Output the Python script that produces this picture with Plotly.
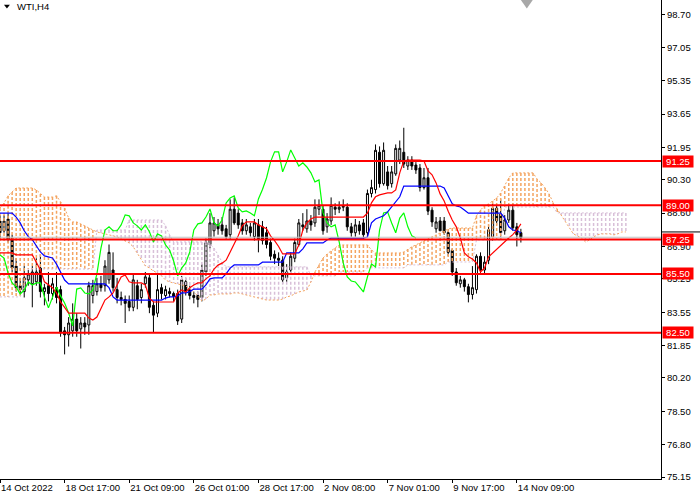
import plotly.graph_objects as go

# WTI H4 candles, bar 0 = 14 Oct 2022
opens = [88.2, 87.7, 88.3, 87.3, 85.9, 84.9, 84.6, 85.2, 85.0, 85.1,
         85.8, 84.6, 84.9, 84.5, 84.8, 84.7, 82.6, 82.4, 82.6, 83.2,
         82.7, 83.0, 82.9, 84.4, 84.6, 85.0, 84.9, 85.2, 85.7, 84.7,
         84.3, 84.2, 84.1, 83.8, 84.9, 84.3, 85.0, 85.3, 83.9, 83.5,
         84.8, 84.4, 84.6, 84.5, 84.5, 83.2, 85.1, 84.7, 84.4, 84.4,
         84.3, 85.6, 87.0, 87.7, 88.0, 88.0, 87.8, 87.5, 88.8, 88.6,
         88.1, 87.7, 87.9, 87.4, 88.0, 87.9, 87.6, 87.1, 86.5, 86.3,
         86.2, 85.3, 85.7, 86.3, 87.0, 88.0, 87.8, 88.2, 88.1, 88.8,
         88.8, 87.9, 88.2, 88.9, 88.8, 88.9, 88.9, 87.9, 87.6, 88.0,
         88.1, 87.6, 89.6, 89.8, 91.7, 90.1, 90.7, 90.1, 90.6, 91.3,
         91.7, 91.0, 91.3, 91.05, 90.9, 89.9, 90.4, 88.75, 87.8, 88.2,
         88.2, 87.6, 86.7, 85.6, 85.0, 85.2, 84.85, 84.45, 84.7, 86.4,
         85.7, 86.2, 87.4, 88.85, 88.55, 87.7, 88.25, 88.75, 87.9, 87.6]
highs = [88.5, 88.5, 88.6, 87.5, 86.3, 85.3, 85.9, 85.7, 85.9, 86.3,
         86.5, 85.0, 85.6, 85.3, 85.6, 84.9, 82.8, 83.3, 84.0, 83.5,
         83.3, 83.3, 85.1, 85.2, 85.3, 85.4, 86.2, 87.0, 86.6, 85.3,
         84.6, 84.4, 84.4, 85.5, 85.2, 85.0, 85.6, 85.5, 84.1, 85.45,
         85.0, 84.9, 84.8, 84.6, 84.7, 85.4, 85.3, 84.9, 84.6, 84.6,
         86.0, 87.3, 88.6, 88.4, 88.3, 88.4, 88.0, 89.3, 89.4, 88.8,
         88.3, 88.3, 88.1, 88.3, 88.3, 88.2, 87.9, 87.3, 86.7, 86.6,
         86.4, 86.0, 86.6, 87.3, 88.3, 88.6, 88.8, 88.5, 89.3, 89.3,
         89.0, 88.6, 89.4, 89.1, 89.2, 89.3, 89.1, 88.1, 88.3, 88.2,
         88.3, 89.8, 90.3, 92.1, 92.0, 92.2, 91.0, 91.0, 92.1, 92.3,
         92.95, 91.5, 91.5, 91.2, 91.1, 90.9, 90.9, 88.9, 88.4, 88.4,
         88.4, 87.7, 86.8, 85.8, 85.4, 85.3, 85.0, 85.9, 86.5, 86.6,
         86.4, 88.0, 89.1, 89.0, 89.3, 88.5, 89.0, 89.1, 88.1, 87.8]
lows = [87.3, 87.6, 87.1, 85.6, 84.6, 84.5, 84.3, 84.9, 83.8, 84.9,
        84.3, 83.9, 84.1, 84.2, 84.0, 82.3, 81.4, 81.8, 82.3, 82.3,
        81.7, 82.4, 82.4, 84.0, 84.4, 84.6, 84.6, 85.0, 84.6, 84.0,
        83.9, 83.0, 83.6, 83.6, 83.7, 84.0, 84.8, 83.5, 82.5, 83.3,
        84.2, 84.2, 84.3, 84.1, 82.9, 83.0, 84.4, 84.2, 84.0, 83.8,
        84.1, 85.4, 86.8, 87.4, 87.5, 87.5, 87.3, 87.3, 88.0, 87.8,
        87.5, 87.5, 87.4, 87.2, 86.6, 87.0, 86.8, 86.2, 86.0, 85.9,
        85.0, 85.1, 85.5, 86.1, 86.9, 87.7, 87.6, 87.7, 87.9, 88.5,
        87.5, 87.6, 88.0, 88.5, 88.6, 88.7, 87.7, 87.4, 87.4, 87.5,
        87.3, 87.4, 89.4, 89.6, 89.9, 90.0, 89.8, 89.9, 90.5, 91.1,
        90.9, 90.8, 90.8, 90.6, 89.7, 89.8, 88.5, 87.9, 87.6, 87.7,
        87.5, 86.4, 85.4, 84.9, 84.8, 84.6, 84.05, 84.2, 84.5, 85.5,
        85.5, 86.0, 87.2, 88.0, 87.4, 87.5, 88.1, 87.7, 86.9, 87.1]
closes = [87.6, 88.2, 87.25, 85.8, 84.8, 84.7, 85.3, 85.5, 85.6, 85.6,
          84.6, 84.8, 84.5, 85.0, 84.3, 82.5, 82.4, 83.0, 83.2, 82.6,
          83.0, 82.8, 84.9, 84.9, 85.0, 84.8, 85.9, 86.6, 84.8, 84.3,
          84.2, 84.0, 83.8, 85.2, 84.2, 84.7, 85.35, 83.8, 83.4, 84.7,
          84.5, 84.7, 84.5, 84.35, 83.1, 85.2, 84.6, 84.4, 84.3, 84.2,
          85.7, 87.1, 88.1, 88.1, 87.8, 87.7, 87.4, 88.8, 88.1, 88.0,
          87.7, 88.0, 87.6, 88.1, 87.3, 87.2, 87.0, 86.4, 86.3, 86.2,
          85.2, 85.6, 86.4, 87.1, 88.1, 87.9, 88.2, 88.0, 88.9, 89.0,
          87.7, 88.3, 89.0, 88.8, 88.9, 88.95, 87.9, 87.6, 88.0, 87.7,
          87.5, 89.6, 89.9, 91.8, 90.1, 91.8, 90.0, 90.7, 91.9, 91.9,
          91.1, 91.3, 91.0, 90.8, 89.9, 90.4, 88.7, 88.15, 88.15, 87.7,
          87.6, 86.6, 85.6, 85.05, 85.2, 84.85, 84.45, 84.8, 86.4, 85.7,
          86.1, 87.75, 88.85, 88.2, 87.6, 88.25, 88.75, 87.85, 87.5, 87.35]

# Ichimoku lines
tenkan = [86.57, 86.57, 86.57, 86.57, 86.47, 86.47, 86.47, 86.47, 86.47, 86.10,
          85.70, 85.10, 84.94, 84.80, 84.53, 84.07, 83.80, 83.50, 83.50, 83.50,
          83.50, 83.50, 83.25, 83.15, 83.30, 83.77, 84.17, 84.33, 84.53, 84.94,
          85.35, 85.45, 85.10, 85.04, 85.04, 85.04, 84.94, 84.27, 84.07, 84.07,
          84.07, 84.07, 84.07, 84.07, 84.53, 84.68, 84.58, 84.80, 84.94, 85.04,
          85.04, 85.25, 85.40, 85.75, 85.95, 86.05, 86.20, 86.60, 87.00, 87.45,
          87.95, 88.15, 88.15, 88.15, 88.00, 87.90, 87.80, 87.44, 87.20, 86.90,
          86.52, 86.52, 86.52, 86.52, 86.98, 87.74, 88.10, 88.30, 88.40, 88.40,
          88.40, 88.40, 88.40, 88.40, 88.40, 88.40, 88.40, 88.40, 88.40, 88.40,
          88.40, 88.60, 89.12, 89.43, 89.53, 89.58, 89.63, 89.63, 89.78, 90.65,
          91.26, 91.30, 91.30, 91.30, 91.30, 91.26, 90.75, 90.55, 90.14, 89.58,
          89.22, 88.70, 88.25, 87.90, 87.33, 86.57, 86.37, 86.26, 86.06, 85.60,
          85.80, 86.37, 86.57, 86.72, 86.93, 87.13, 87.33, 87.50, 87.74, 88.05]
kijun = [88.60, 88.60, 88.60, 88.60, 88.40, 88.10, 87.70, 87.40, 87.25, 86.90,
         86.62, 86.42, 86.37, 86.31, 86.00, 85.60, 85.19, 84.99, 84.99, 84.99,
         84.99, 84.99, 84.99, 84.99, 84.99, 84.99, 84.99, 84.80, 84.33, 84.17,
         84.17, 84.17, 84.17, 84.17, 84.17, 84.17, 84.17, 84.17, 84.17, 84.17,
         84.17, 84.27, 84.33, 84.33, 84.38, 84.53, 84.53, 84.60, 84.73, 84.73,
         84.73, 84.94, 85.25, 85.30, 85.30, 85.30, 85.50, 85.80, 85.96, 85.96,
         85.96, 85.96, 85.96, 85.96, 85.96, 86.10, 86.10, 86.10, 86.10, 86.10,
         86.10, 86.57, 86.57, 86.57, 86.57, 86.78, 87.08, 87.08, 87.08, 87.08,
         87.08, 87.23, 87.33, 87.33, 87.33, 87.33, 87.33, 87.33, 87.33, 87.33,
         87.33, 87.38, 88.10, 88.30, 88.40, 88.46, 88.66, 88.91, 89.17, 89.43,
         89.98, 89.98, 89.98, 89.98, 89.98, 89.98, 89.98, 89.98, 89.98, 89.98,
         89.88, 89.43, 89.07, 88.96, 88.91, 88.76, 88.60, 88.60, 88.60, 88.60,
         88.60, 88.60, 88.60, 88.60, 88.60, 88.35, 87.90, 87.74, 87.70, 87.60]
chikou = [86.47, 86.31, 85.55, 85.04, 84.84, 84.48, 84.68, 85.09, 84.94, 85.04,
          85.04, 84.33, 83.77, 84.27, 84.84, 84.38, 84.02, 83.51, 82.85, 84.73,
          84.79, 84.53, 84.48, 84.68, 85.50, 86.82, 87.74, 87.90, 87.70, 87.70,
          88.00, 88.51, 88.46, 88.10, 87.95, 87.74, 88.00, 87.65, 87.13, 87.54,
          87.44, 86.98, 86.72, 86.16, 85.40, 85.80, 86.06, 86.62, 87.74, 88.05,
          88.10, 88.40, 88.81, 88.10, 87.95, 88.25, 89.12, 89.37, 89.48, 88.86,
          88.66, 88.71, 88.61, 88.46, 89.32, 89.80, 90.39, 91.21, 91.72, 91.72,
          90.70, 91.21, 91.82, 91.41, 91.00, 91.16, 90.95, 90.65, 90.19, 90.29,
          88.61, 88.10, 87.90, 88.00, 87.13, 86.06, 85.35, 85.14, 85.09, 84.84,
          84.58, 85.35, 86.01, 85.86, 87.74, 88.61, 88.66, 88.10, 87.60, 88.35,
          88.61, 87.90, 87.44, 87.33]
span_a = [88.86, 89.12, 89.48, 89.68, 89.88, 89.88, 89.88, 89.88, 89.88, 89.78,
          89.58, 89.42, 89.42, 89.42, 89.48, 89.17, 88.86, 88.35, 88.15, 88.15,
          88.05, 87.95, 87.84, 87.74, 87.64, 87.59, 87.54, 87.49, 87.44, 87.39,
          87.28, 87.18, 87.08, 86.88, 86.57, 86.21, 85.91, 85.81, 85.65, 85.55,
          85.40, 85.19, 85.09, 85.04, 84.99, 84.94, 84.89, 84.73, 84.58, 84.38,
          84.12, 84.22, 84.43, 84.43, 84.48, 84.48, 84.48, 84.48, 84.53, 84.53,
          84.48, 84.43, 84.38, 84.33, 84.27, 84.22, 84.17, 84.17, 84.17, 84.17,
          84.22, 84.33, 84.38, 84.48, 84.58, 84.63, 84.68, 85.09, 85.60, 85.96,
          86.31, 86.52, 86.67, 86.82, 86.98, 86.98, 86.98, 86.98, 86.98, 86.98,
          86.98, 86.98, 86.72, 86.57, 86.57, 86.57, 86.57, 86.57, 86.57, 86.57,
          86.62, 86.77, 86.88, 86.98, 87.08, 87.18, 87.28, 87.39, 87.49, 87.59,
          87.69, 87.79, 87.84, 87.84, 87.84, 87.84, 87.84, 87.84, 88.46, 88.76,
          88.97, 89.07, 89.22, 89.37, 89.63, 89.98, 90.39, 90.65, 90.65, 90.65,
          90.65, 90.65, 90.65, 90.34, 90.14, 89.88, 89.58, 89.12, 88.81, 88.51,
          88.20, 87.84, 87.54, 87.44, 87.33, 87.13, 87.23, 87.39, 87.49, 87.54,
          87.54, 87.54, 87.49, 87.54, 87.64, 87.64]
span_b = [84.33, 84.33, 84.33, 84.33, 84.33, 84.33, 84.90, 85.75, 85.75, 85.75,
          85.75, 85.75, 85.75, 85.75, 85.75, 85.75, 85.75, 85.75, 85.75, 85.75,
          85.75, 85.75, 85.75, 85.75, 87.74, 87.74, 87.74, 87.74, 87.74, 87.74,
          87.74, 87.74, 88.25, 88.25, 88.25, 88.25, 88.25, 88.25, 88.25, 88.25,
          88.25, 87.95, 87.49, 87.13, 87.13, 87.13, 87.13, 87.13, 87.13, 87.13,
          87.13, 87.13, 87.03, 86.82, 86.47, 86.11, 85.86, 85.86, 85.86, 85.86,
          85.86, 85.86, 85.86, 85.86, 85.86, 85.86, 85.86, 85.86, 85.86, 85.86,
          85.86, 85.86, 85.86, 85.86, 85.86, 85.86, 85.86, 85.40, 85.40, 85.40,
          85.40, 85.40, 85.40, 85.40, 85.60, 85.60, 85.60, 85.60, 85.60, 85.60,
          85.60, 85.81, 85.81, 85.81, 85.81, 85.81, 85.81, 85.81, 85.81, 85.81,
          85.81, 85.96, 85.96, 85.96, 85.96, 85.96, 85.96, 85.96, 85.96, 85.96,
          85.96, 86.11, 86.11, 86.11, 86.11, 86.11, 86.11, 86.11, 87.23, 87.23,
          87.23, 87.23, 87.23, 87.23, 87.23, 88.91, 88.91, 88.91, 88.91, 88.91,
          88.91, 88.91, 88.91, 88.91, 88.91, 88.91, 88.91, 88.91, 88.61, 88.61,
          88.61, 88.61, 88.61, 88.61, 88.61, 88.61, 88.61, 88.61, 88.61, 88.61,
          88.61, 88.61, 88.61, 88.61, 88.61, 88.61]

levels = [91.25, 89.00, 87.25, 85.50, 82.50]
bid_price = 87.37

x_tick_pos = [0, 16, 32, 48, 64, 80, 96, 112, 128]
x_tick_labels = ['14 Oct 2022', '18 Oct 17:00', '21 Oct 09:00', '26 Oct 01:00',
                 '28 Oct 17:00', '2 Nov 08:00', '7 Nov 01:00', '9 Nov 17:00',
                 '14 Nov 09:00']
y_ticks = [98.70, 97.05, 95.35, 93.65, 91.95, 90.30, 88.60, 86.90, 85.25,
           83.55, 81.85, 80.20, 78.50, 76.80, 75.15]

FONT = 'Liberation Sans'
ORANGE = '#F4A460'
THISTLE = '#D8BFD8'

bars = list(range(len(closes)))
cloud_x = list(range(len(span_a)))
chikou_x = list(range(len(chikou)))

fig = go.Figure()

fig.add_trace(go.Candlestick(
    x=bars, open=opens, high=highs, low=lows, close=closes,
    increasing=dict(line=dict(color='black', width=1), fillcolor='white'),
    decreasing=dict(line=dict(color='black', width=1), fillcolor='black'),
    whiskerwidth=0, hoverinfo='skip', showlegend=False,
))

# cloud hatch: one dotted vertical stroke per bar
up_x, up_y, dn_x, dn_y = [], [], [], []
for i, (a, b) in enumerate(zip(span_a, span_b)):
    if a >= b:
        up_x += [i, i, None]
        up_y += [a, b, None]
    else:
        dn_x += [i, i, None]
        dn_y += [b, a, None]

fig.add_trace(go.Scatter(x=up_x, y=up_y, mode='lines', hoverinfo='skip',
                         line=dict(color=ORANGE, width=1.5, dash='3px,2px')))
fig.add_trace(go.Scatter(x=dn_x, y=dn_y, mode='lines', hoverinfo='skip',
                         line=dict(color=THISTLE, width=1.5, dash='3px,2px')))
fig.add_trace(go.Scatter(x=cloud_x, y=span_b, mode='lines', hoverinfo='skip',
                         line=dict(color=THISTLE, width=1, dash='2px,2px')))
fig.add_trace(go.Scatter(x=cloud_x, y=span_a, mode='lines', hoverinfo='skip',
                         line=dict(color=ORANGE, width=1, dash='2px,2px')))

fig.add_trace(go.Scatter(x=chikou_x, y=chikou, mode='lines', hoverinfo='skip',
                         line=dict(color='#00FF00', width=1.2)))
fig.add_trace(go.Scatter(x=bars, y=kijun, mode='lines', hoverinfo='skip',
                         line=dict(color='#0000FF', width=1.2)))
fig.add_trace(go.Scatter(x=bars, y=tenkan, mode='lines', hoverinfo='skip',
                         line=dict(color='#FF0000', width=1.2)))

shapes = [
    dict(type='line', xref='paper', x0=0, x1=1, yref='y', y0=bid_price, y1=bid_price,
         line=dict(color='#C0C0C0', width=1), layer='above'),
    dict(type='line', xref='paper', x0=1, x1=1.06, yref='y', y0=87.64, y1=87.64,
         line=dict(color='black', width=1), layer='above'),
    # chart shift marker
    dict(type='path', xref='paper', yref='paper',
         path='M 0.788,1 L 0.806,1 L 0.797,0.982 Z',
         fillcolor='#A8A8A8', line=dict(width=0), layer='above'),
    # small menu triangle by the symbol name
    dict(type='path', xref='paper', yref='paper',
         path='M 0.006,0.990 L 0.015,0.990 L 0.0105,0.982 Z',
         fillcolor='black', line=dict(width=0), layer='above'),
]
annotations = [
    dict(text='WTI,H4', xref='paper', yref='paper', x=0.022, y=0.986,
         xanchor='left', yanchor='middle', showarrow=False,
         font=dict(family=FONT, size=9.5, color='black')),
]
for lv in levels:
    shapes.append(dict(type='line', xref='paper', x0=0, x1=1, yref='y', y0=lv, y1=lv,
                       line=dict(color='#FF0000', width=2), layer='above'))
    annotations.append(dict(text=f'{lv:.2f}', xref='paper', yref='y', x=1, y=lv,
                            xanchor='left', yanchor='middle', xshift=1, showarrow=False,
                            bgcolor='#FF0000', width=30, height=11, borderpad=0,
                            font=dict(family=FONT, size=9.5, color='white')))

fig.update_layout(
    width=700, height=500,
    margin=dict(l=0, r=39, t=0, b=21),
    paper_bgcolor='white', plot_bgcolor='white',
    showlegend=False,
    font=dict(family=FONT, size=9.5, color='black'),
    shapes=shapes, annotations=annotations,
    xaxis=dict(
        range=[0, 163.7], tickvals=x_tick_pos, ticktext=x_tick_labels,
        ticks='outside', ticklen=3, tickcolor='black', ticklabelposition='outside right',
        showline=True, linecolor='black', linewidth=1, showgrid=False, zeroline=False,
        rangeslider=dict(visible=False), automargin=False,
        tickfont=dict(family=FONT, size=9.5, color='black'),
    ),
    yaxis=dict(
        side='right', range=[75.05, 99.46], tickvals=y_ticks,
        ticktext=[f'{v:.2f}' for v in y_ticks],
        ticks='outside', ticklen=3, tickcolor='black',
        showline=True, linecolor='black', linewidth=1, showgrid=False, zeroline=False,
        automargin=False, tickfont=dict(family=FONT, size=9.5, color='black'),
    ),
)

# the page body has a default 8px margin; drop it so the chart sits at the corner
fig.write_html('out.html', config={'displayModeBar': False},
               post_script="document.body.style.margin='0';")
